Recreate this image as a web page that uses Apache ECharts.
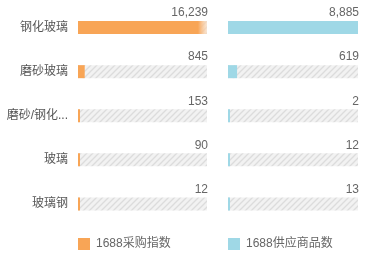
<!DOCTYPE html>
<html><head><meta charset="utf-8">
<script src="https://cdn.jsdelivr.net/npm/echarts@6/dist/echarts.min.js"></script>
<style>html,body{margin:0;padding:0;background:#fff}#c{width:376px;height:262px}</style>
</head><body><div id="c"></div>
<script>
var categories = ['钢化玻璃', '磨砂玻璃', '磨砂/钢化玻璃', '玻璃', '玻璃钢'];
var purchaseIndex = [16239, 845, 153, 90, 12];
var supplyCount = [8885, 619, 2, 12, 13];
var seriesNames = ['1688采购指数', '1688供应商品数'];

var FONT = '"Liberation Sans", "Noto Sans CJK SC", sans-serif';
function hatch() {
  var c = document.createElement('canvas');
  c.width = 6; c.height = 6;
  var g = c.getContext('2d');
  g.fillStyle = '#f2f2f2'; g.fillRect(0, 0, 6, 6);
  g.strokeStyle = '#dcdcdc'; g.lineWidth = 1.3;
  g.beginPath();
  g.moveTo(-1, 7); g.lineTo(7, -1);
  g.moveTo(-1, 1); g.lineTo(1, -1);
  g.moveTo(5, 7); g.lineTo(7, 5);
  g.stroke();
  return c;
}
var pat = { image: hatch(), repeat: 'repeat' };
function maxOf(a) { return Math.max.apply(null, a); }
function fmt(v) { return v.toLocaleString('en-US'); }

var chart = echarts.init(document.getElementById('c'), null, { renderer: 'canvas' });
var maxL = maxOf(purchaseIndex), maxR = maxOf(supplyCount);

function bgSeries(idx, arr, mx) {
  return {
    type: 'bar', xAxisIndex: idx, yAxisIndex: idx, silent: true, barWidth: 13,
    data: arr.map(function () { return mx; }),
    itemStyle: { color: pat },
    label: {
      show: true, position: ['100%', 0], align: 'right', verticalAlign: 'bottom',
      offset: [1, -2], color: '#666', fontSize: 12, fontFamily: FONT,
      formatter: function (p) { return fmt(arr[p.dataIndex]); }
    },
    z: 1
  };
}

var orangeTop = {
  type: 'linear', x: 0, y: 0, x2: 1, y2: 0,
  colorStops: [{ offset: 0, color: '#f8a556' }, { offset: 0.93, color: '#f8a556' }, { offset: 1, color: 'rgba(252,220,190,0.6)' }]
};

chart.setOption({
  animation: false,
  textStyle: { fontFamily: FONT },
  grid: [
    { left: 78, width: 129, top: 5.5, height: 220.5 },
    { left: 228, width: 130, top: 5.5, height: 220.5 }
  ],
  xAxis: [
    { type: 'value', gridIndex: 0, min: 0, max: maxL, show: false },
    { type: 'value', gridIndex: 1, min: 0, max: maxR, show: false }
  ],
  yAxis: [
    { type: 'category', gridIndex: 0, inverse: true, data: categories,
      axisLine: { show: false }, axisTick: { show: false },
      axisLabel: { margin: 10, color: '#555', fontSize: 12, fontFamily: FONT,
        formatter: function (v) { return v.length > 6 ? v.slice(0, 5) + '...' : v; } } },
    { type: 'category', gridIndex: 1, inverse: true, data: categories,
      axisLine: { show: false }, axisTick: { show: false }, axisLabel: { show: false } }
  ],
  legend: [
    { left: 78, top: 238, padding: 0, itemWidth: 12, itemHeight: 12, itemGap: 20, icon: 'rect',
      data: [seriesNames[0]], textStyle: { color: '#666', fontSize: 12, fontFamily: FONT, padding: [0, 0, 0, 1] } },
    { left: 228, top: 238, padding: 0, itemWidth: 12, itemHeight: 12, itemGap: 20, icon: 'rect',
      data: [seriesNames[1]], textStyle: { color: '#666', fontSize: 12, fontFamily: FONT, padding: [0, 0, 0, 1] } }
  ],
  series: [
    bgSeries(0, purchaseIndex, maxL),
    { name: seriesNames[0], type: 'bar', xAxisIndex: 0, yAxisIndex: 0, barWidth: 13, barGap: '-100%', barMinHeight: 2,
      data: purchaseIndex.map(function (v, i) { return i === 0 ? { value: v, itemStyle: { color: orangeTop } } : v; }),
      itemStyle: { color: '#f8a556', opacity: 1 }, z: 2 },
    bgSeries(1, supplyCount, maxR),
    { name: seriesNames[1], type: 'bar', xAxisIndex: 1, yAxisIndex: 1, barWidth: 13, barGap: '-100%', barMinHeight: 2,
      data: supplyCount, itemStyle: { color: '#9fd8e6' }, z: 2 }
  ]
});
</script></body></html>
